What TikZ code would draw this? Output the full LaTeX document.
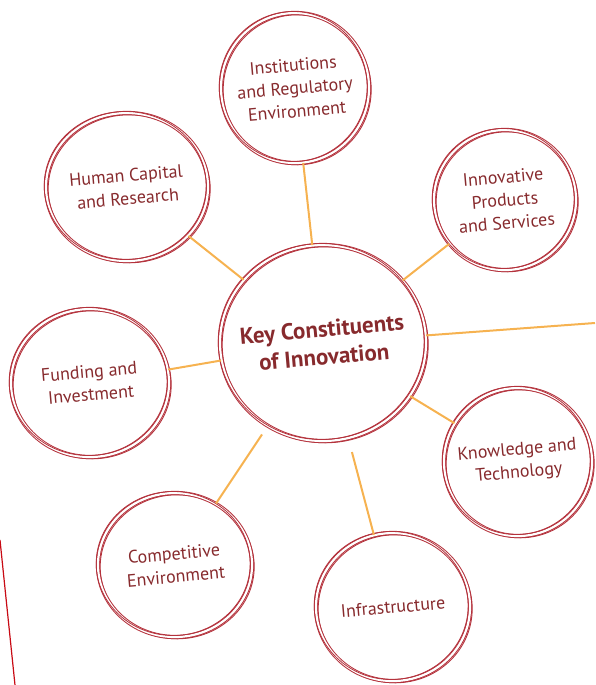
\documentclass[tikz,border=0pt]{standalone}
\usepackage{fontspec}
\setmainfont{PT Sans}
\usetikzlibrary{shapes,positioning}
\definecolor{ringred}{RGB}{180,50,60}
\definecolor{textred}{RGB}{135,42,45}
\definecolor{linkorange}{RGB}{246,178,80}
\definecolor{edgered}{RGB}{200,10,20}
\tikzstyle{bubble} = [ellipse, draw=ringred, line width=1pt, double=white, double distance=2.2pt, preaction={draw=ringred, line width=0.9pt, transform canvas={shift={(2.2pt,-1.8pt)}}}, postaction={draw=ringred, line width=0.8pt, transform canvas={shift={(-1.8pt,1.5pt)}}}, inner sep=0pt]
\tikzstyle{caption} = [text=textred, align=center, rotate=5, font=\fontsize{18}{23}\selectfont]
\tikzstyle{hubcaption} = [caption, font=\bfseries\fontsize{23}{28}\selectfont]
\tikzstyle{line}   = [draw=linkorange, line width=2pt]

\begin{document}
\begin{tikzpicture}[x=1pt, y=-1pt]
	\useasboundingbox (0,0) rectangle (595,685);
	% Node Setting %
	\node [bubble, minimum width=206pt, minimum height=196pt, label={[hubcaption]center:Key Constituents\\of Innovation}] (key) at (323,343) {};
	\node [bubble, minimum width=148pt, minimum height=150pt, label={[caption]center:Institutions\\and Regulatory\\Environment}] (inst) at (295,88) {};
	\node [bubble, minimum width=162pt, minimum height=148pt, label={[caption]center:Human Capital\\and Research}] (human) at (127,187) {};
	\node [bubble, minimum width=142pt, minimum height=140pt, label={[caption]center:Innovative\\Products\\and Services}] (prod) at (505,200) {};
	\node [bubble, minimum width=158pt, minimum height=148pt, label={[caption]center:Funding and\\Investment}] (fund) at (90,383) {};
	\node [bubble, minimum width=148pt, minimum height=148pt, label={[caption]center:Knowledge and\\Technology}] (know) at (518,462) {};
	\node [bubble, minimum width=154pt, minimum height=144pt, label={[caption]center:Competitive\\Environment}] (comp) at (175,565) {};
	\node [bubble, minimum width=154pt, minimum height=148pt, label={[caption]center:Infrastructure}] (infra) at (393,607) {};
	\coordinate (rim) at (595,323);
	% Connection %
	\path [line] (inst)  -- (key);
	\path [line] (human) -- (key);
	\path [line] (prod)  -- (key);
	\path [line] (fund)  -- (key);
	\path [line] (know)  -- (key);
	\path [line, shorten >=10pt] (comp)  -- (key);
	\path [line, shorten >=14pt] (infra) -- (key);
	\path [line] (key)   -- (rim);
	% Page edge %
	\draw [edgered, line width=1.2pt] (0,540) -- (15,685);
\end{tikzpicture}
\end{document}
